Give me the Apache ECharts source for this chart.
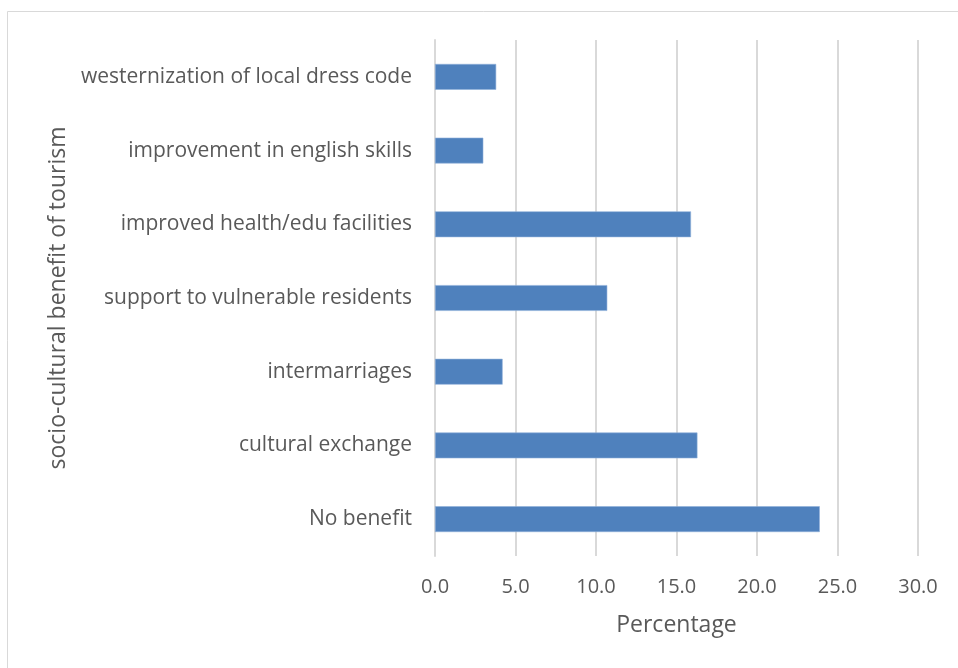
<!DOCTYPE html>
<html>
<head>
<meta charset="utf-8">
<script src="https://cdn.jsdelivr.net/npm/echarts@6/dist/echarts.min.js"></script>
<style>
  html, body { margin: 0; padding: 0; background: #ffffff; }
  #chart { width: 958px; height: 668px; }
</style>
</head>
<body>
<div id="chart"></div>
<script>
// Socio-cultural benefits of tourism, share of respondents (%)
const categories = [
  'No benefit',
  'cultural exchange',
  'intermarriages',
  'support to vulnerable residents',
  'improved health/edu facilities',
  'improvement in english skills',
  'westernization of local dress code'
];
const percentages = [23.9, 16.3, 4.2, 10.7, 15.9, 3.0, 3.8];
const xTicks = { min: 0, max: 30, interval: 5 };

const textColor = '#595959';
const fontFamily = '"Open Sans", "Noto Sans", sans-serif';

const chart = echarts.init(document.getElementById('chart'), null, { renderer: 'canvas' });

chart.setOption({
  backgroundColor: '#ffffff',
  animation: false,
  graphic: [{
    type: 'rect',
    shape: { x: 7.5, y: 11.5, width: 1000, height: 1000 },
    style: { fill: 'none', stroke: '#d9d9d9', lineWidth: 1 },
    silent: true
  }],
  grid: { left: 435, right: 40, top: 40, bottom: 112, containLabel: false },
  xAxis: {
    type: 'value',
    min: xTicks.min,
    max: xTicks.max,
    interval: xTicks.interval,
    name: 'Percentage',
    nameLocation: 'middle',
    nameGap: 58,
    nameTextStyle: { color: textColor, fontSize: 23, fontFamily: fontFamily },
    axisLine: { show: false },
    axisTick: { show: false },
    axisLabel: {
      color: textColor, fontSize: 20, fontFamily: fontFamily, margin: 21,
      formatter: v => v.toFixed(1)
    },
    splitLine: { show: true, lineStyle: { color: '#d9d9d9', width: 2 } }
  },
  yAxis: {
    type: 'category',
    data: categories,
    name: 'socio-cultural benefit of tourism',
    nameLocation: 'middle',
    nameGap: 363,
    nameRotate: 90,
    nameTextStyle: { color: textColor, fontSize: 23, fontFamily: fontFamily },
    axisLine: { show: true, lineStyle: { color: '#d9d9d9', width: 2 } },
    axisTick: { show: false },
    axisLabel: { color: textColor, fontSize: 21, fontFamily: fontFamily, margin: 23 },
    splitLine: { show: false }
  },
  series: [{
    type: 'bar',
    data: percentages,
    barWidth: '35%',
    itemStyle: { color: '#4f81bd', borderColor: '#8eb0da', borderWidth: 0.6 },
    silent: true
  }]
});
</script>
</body>
</html>
